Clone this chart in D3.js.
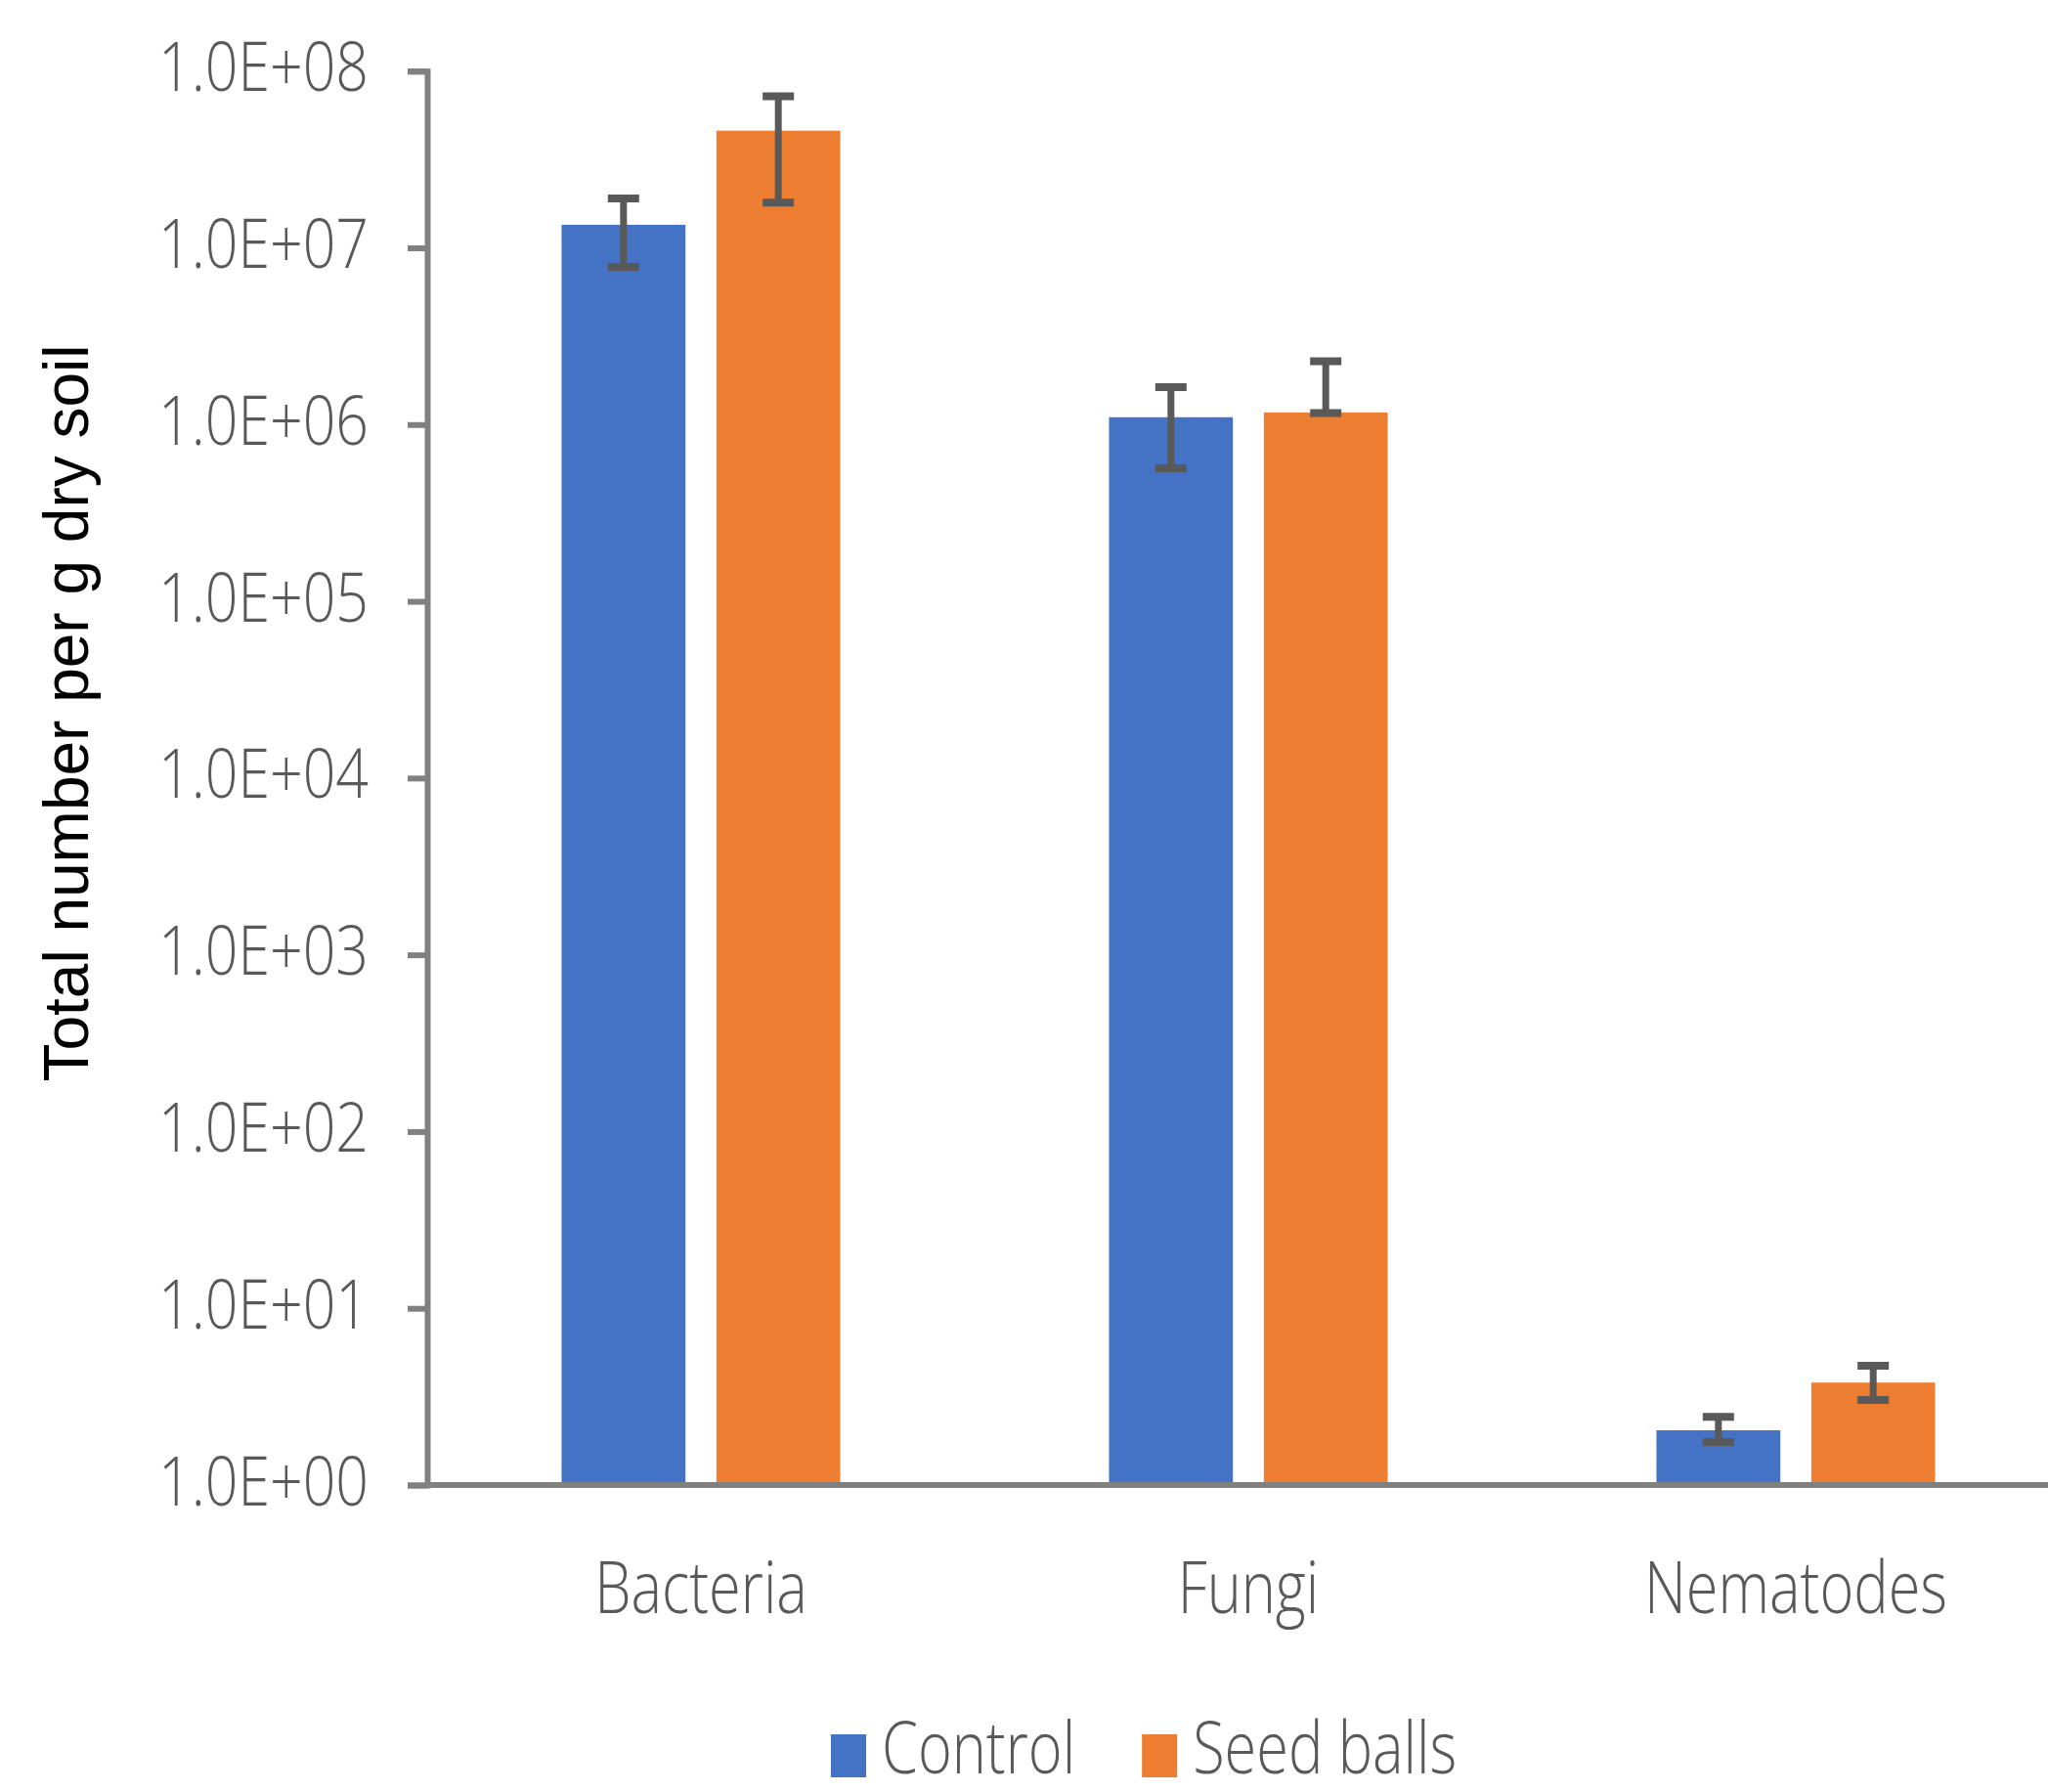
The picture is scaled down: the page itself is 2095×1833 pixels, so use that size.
<!DOCTYPE html>
<html>
<head>
<meta charset="utf-8">
<script src="https://cdn.jsdelivr.net/npm/d3@7"></script>
<style>
  html, body { margin: 0; padding: 0; background: #ffffff; }
  svg { display: block; }
</style>
</head>
<body>
<svg id="chart" width="2095" height="1833"></svg>
<script>
// ---------------- data ----------------
const categories = ["Bacteria", "Fungi", "Nematodes"];
const series = ["Control", "Seed balls"];
const controlValues = [1.35e7, 1.10e6, 2.04];
const seedBallValues = [4.6e7, 1.17e6, 3.8];
const controlErrLow = [7.8e6, 5.65e5, 1.75];
const controlErrHigh = [1.9e7, 1.63e6, 2.43];
const seedBallErrLow = [1.8e7, 1.16e6, 3.03];
const seedBallErrHigh = [7.2e7, 2.28e6, 4.73];
const yTickValues = [1e0, 1e1, 1e2, 1e3, 1e4, 1e5, 1e6, 1e7, 1e8];
const yTickLabels = ["1.0E+00", "1.0E+01", "1.0E+02", "1.0E+03", "1.0E+04", "1.0E+05", "1.0E+06", "1.0E+07", "1.0E+08"];
const yTitle = "Total number per g dry soil";

// ---------------- styling ----------------
const colors = { "Control": "#4472C4", "Seed balls": "#ED7D31" };
const axisColor = "#808080";
const textGray = "#595959";
const errColor = "#595959";
const lightFont = "'Open Sans', 'Lato', 'Noto Sans', sans-serif";

const svg = d3.select("#chart");
svg.append("rect").attr("width", 2095).attr("height", 1833).attr("fill", "#fff");

const axisX = 437, yBottom = 1519, yTop = 72.7, step = 560;

const y = d3.scaleLog().domain([1, 1e8]).range([yBottom, yTop]);
const x0 = d3.scaleBand().domain(categories).range([axisX, axisX + step * categories.length]).padding(0);
const x1 = d3.scaleBand().domain(series).range([0, x0.bandwidth()]).paddingInner(0.2).paddingOuter(0.868);

const rows = categories.map((c, i) => ({
  cat: c,
  items: [
    { s: "Control", v: controlValues[i], lo: controlErrLow[i], hi: controlErrHigh[i] },
    { s: "Seed balls", v: seedBallValues[i], lo: seedBallErrLow[i], hi: seedBallErrHigh[i] }
  ]
}));

// bars
const groups = svg.append("g").selectAll("g").data(rows).join("g")
  .attr("transform", d => `translate(${x0(d.cat)},0)`);
groups.selectAll("rect").data(d => d.items).join("rect")
  .attr("x", d => x1(d.s))
  .attr("width", x1.bandwidth())
  .attr("y", d => y(d.v))
  .attr("height", d => y(1) - y(d.v))
  .attr("fill", d => colors[d.s]);

// error bars
const eb = groups.selectAll("g.err").data(d => d.items).join("g").attr("class", "err");
const cx = d => x1(d.s) + x1.bandwidth() / 2;
eb.append("line")
  .attr("x1", cx).attr("x2", cx)
  .attr("y1", d => y(d.hi)).attr("y2", d => y(d.lo))
  .attr("stroke", errColor).attr("stroke-width", 7);
eb.append("line")
  .attr("x1", d => cx(d) - 16).attr("x2", d => cx(d) + 16)
  .attr("y1", d => y(d.hi)).attr("y2", d => y(d.hi))
  .attr("stroke", errColor).attr("stroke-width", 8);
eb.append("line")
  .attr("x1", d => cx(d) - 16).attr("x2", d => cx(d) + 16)
  .attr("y1", d => y(d.lo)).attr("y2", d => y(d.lo))
  .attr("stroke", errColor).attr("stroke-width", 8);

// y axis
const yAxis = svg.append("g").attr("transform", `translate(${axisX},0)`)
  .call(d3.axisLeft(y).tickValues(yTickValues).tickSize(20).tickPadding(40)
    .tickFormat((d, i) => yTickLabels[i]));
yAxis.select(".domain").attr("stroke", axisColor).attr("stroke-width", 6);
yAxis.selectAll(".tick line").attr("stroke", axisColor).attr("stroke-width", 6);
yAxis.selectAll(".tick text")
  .attr("fill", textGray)
  .attr("font-family", lightFont).attr("font-weight", 300)
  .attr("font-size", 70)
  .attr("dy", 0).attr("y", 20)
  .attr("textLength", 215).attr("lengthAdjust", "spacingAndGlyphs");

// x axis
const xAxis = svg.append("g").attr("transform", `translate(0,${yBottom})`)
  .call(d3.axisBottom(x0).tickSize(0).tickPadding(0));
xAxis.select(".domain").attr("stroke", axisColor).attr("stroke-width", 6)
  .attr("d", `M${axisX},0H2200`);
xAxis.selectAll(".tick text")
  .attr("class", "light")
  .attr("fill", textGray)
  .attr("font-family", lightFont).attr("font-weight", 300)
  .attr("font-size", 73)
  .attr("dy", 0).attr("y", 131);

// y title
svg.append("text")
  .attr("transform", "rotate(-90)")
  .attr("x", -729.5).attr("y", 89.5)
  .attr("text-anchor", "middle")
  .attr("font-family", "'Liberation Sans', Arial, sans-serif")
  .attr("font-size", 64)
  .attr("fill", "#000")
  .text(yTitle);

// legend
const legend = svg.append("g").attr("transform", "translate(850,1814)");
const legendItems = [];
series.forEach(s => {
  const g = legend.append("g");
  g.append("rect").attr("x", 0).attr("y", -40).attr("width", 36).attr("height", 44).attr("fill", colors[s]);
  const t = g.append("text").attr("class", "light").attr("x", 52).attr("y", 0)
    .attr("fill", textGray).attr("font-family", lightFont).attr("font-weight", 300)
    .attr("font-size", 73).text(s);
  legendItems.push({ g, t });
});

// condense the light text to match the narrow reference face
const refNode = xAxis.selectAll(".tick text").filter(d => d === "Nematodes").node();
const factor = 310 / refNode.getComputedTextLength();
svg.selectAll("text.light").each(function () {
  const w = this.getComputedTextLength();
  d3.select(this).attr("textLength", w * factor).attr("lengthAdjust", "spacingAndGlyphs");
});
// place legend items one after another
let lx = 0;
legendItems.forEach(it => {
  it.g.attr("transform", `translate(${lx},0)`);
  lx += 52 + (+it.t.attr("textLength")) + 68;
});
</script>
</body>
</html>
